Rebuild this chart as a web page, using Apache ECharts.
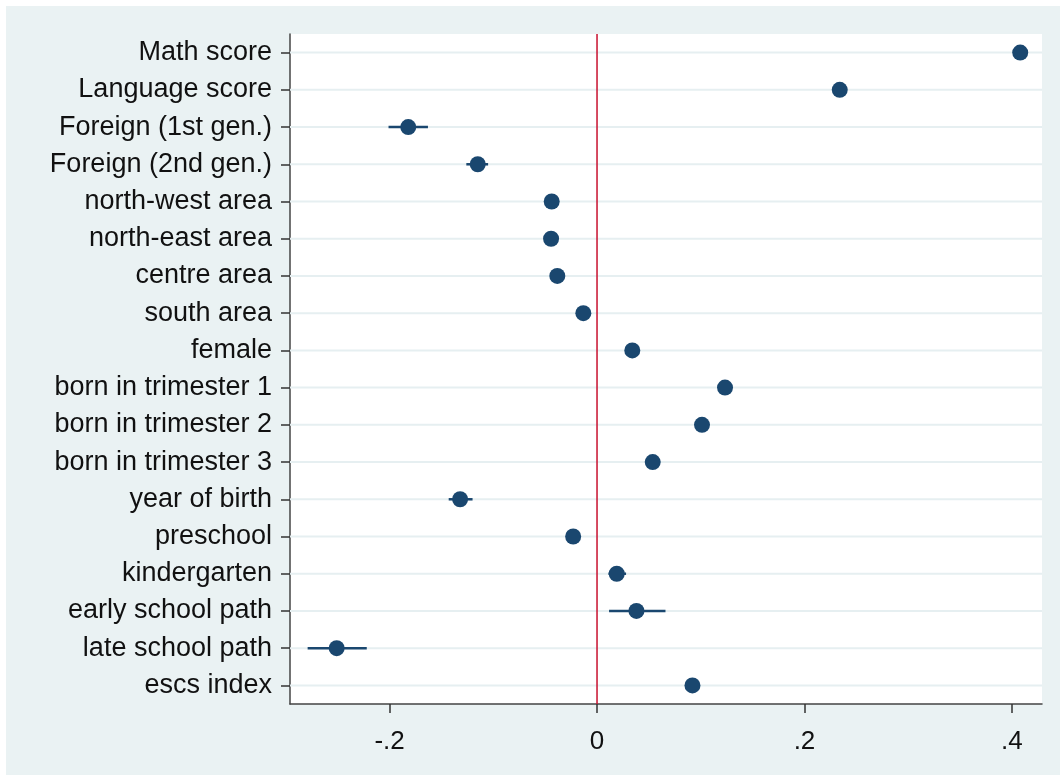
<!DOCTYPE html>
<html>
<head>
<meta charset="utf-8">
<script src="https://cdn.jsdelivr.net/npm/echarts@6/dist/echarts.min.js"></script>
<style>
html,body{margin:0;padding:0;background:#ffffff;}
#chart{position:absolute;left:6px;top:6px;width:1054px;height:769px;}
</style>
</head>
<body>
<div id="chart"></div>
<script>
// ---- data ----
const categories = [
  "Math score", "Language score", "Foreign (1st gen.)", "Foreign (2nd gen.)",
  "north-west area", "north-east area", "centre area", "south area", "female",
  "born in trimester 1", "born in trimester 2", "born in trimester 3",
  "year of birth", "preschool", "kindergarten", "early school path",
  "late school path", "escs index"
];
const estimates = [0.408, 0.234, -0.182, -0.115, -0.0437, -0.0443, -0.0383, -0.0132, 0.034,
  0.1234, 0.1012, 0.0537, -0.132, -0.023, 0.019, 0.038, -0.251, 0.092];
const ciLow = [0.404, 0.230, -0.201, -0.126, -0.048, -0.049, -0.043, -0.018, 0.030,
  0.119, 0.097, 0.049, -0.143, -0.028, 0.011, 0.0116, -0.279, 0.088];
const ciHigh = [0.412, 0.238, -0.163, -0.105, -0.039, -0.040, -0.034, -0.009, 0.038,
  0.128, 0.106, 0.058, -0.120, -0.018, 0.028, 0.066, -0.222, 0.096];
const xTicks = [-0.2, 0, 0.2, 0.4];
const refLine = [0];

const navy = '#1a476f';
const fontFamily = '"Liberation Sans", Arial, sans-serif';

const chart = echarts.init(document.getElementById('chart'));
const option = {
  backgroundColor: '#EAF2F3',
  animation: false,
  grid: {
    left: 284, right: 18, top: 28, bottom: 71,
    show: true, backgroundColor: '#ffffff', borderWidth: 0
  },
  xAxis: {
    type: 'value',
    min: -0.296, max: 0.429,
    axisLine: { show: true, onZero: false, lineStyle: { color: '#444', width: 1.5 } },
    axisTick: { show: true, length: 9, customValues: xTicks, lineStyle: { color: '#333', width: 1.5 } },
    axisLabel: {
      customValues: xTicks, margin: 25, color: '#111', fontSize: 26, fontFamily: fontFamily,
      formatter: function (v) {
        if (Math.abs(v) < 1e-9) return '0';
        return String(Math.round(v * 10) / 10).replace('0.', '.');
      }
    },
    splitLine: { show: false }
  },
  yAxis: {
    type: 'category',
    data: categories,
    inverse: true,
    boundaryGap: true,
    axisLine: { show: true, onZero: false, lineStyle: { color: '#444', width: 1.5 } },
    axisTick: { show: true, alignWithLabel: true, length: 9, lineStyle: { color: '#333', width: 1.5 } },
    axisLabel: { margin: 18, color: '#111', fontSize: 27, fontFamily: fontFamily },
    splitLine: { show: false }
  },
  series: [
    {
      // horizontal grid lines at each category
      type: 'custom',
      z: 1,
      silent: true,
      data: categories.map((c, i) => [i]),
      encode: { y: 0 },
      renderItem: function (params, api) {
        const cs = params.coordSys;
        const p = api.coord([0, api.value(0)]);
        return {
          type: 'line',
          shape: { x1: cs.x, y1: p[1], x2: cs.x + cs.width, y2: p[1] },
          style: { stroke: '#E6EFF1', lineWidth: 2 }
        };
      }
    },
    {
      // reference line at x = 0
      type: 'custom',
      z: 2,
      silent: true,
      data: refLine.map(v => [v]),
      encode: { x: 0 },
      renderItem: function (params, api) {
        const cs = params.coordSys;
        const p = api.coord([api.value(0), 0]);
        return {
          type: 'line',
          shape: { x1: p[0], y1: cs.y, x2: p[0], y2: cs.y + cs.height },
          style: { stroke: '#C8102E', lineWidth: 1.5 }
        };
      }
    },
    {
      // confidence intervals
      type: 'custom',
      z: 3,
      data: categories.map((c, i) => [ciLow[i], ciHigh[i], i]),
      encode: { x: [0, 1], y: 2 },
      renderItem: function (params, api) {
        const p1 = api.coord([api.value(0), api.value(2)]);
        const p2 = api.coord([api.value(1), api.value(2)]);
        return {
          type: 'line',
          shape: { x1: p1[0], y1: p1[1], x2: p2[0], y2: p2[1] },
          style: { stroke: navy, lineWidth: 2.5 }
        };
      }
    },
    {
      type: 'scatter',
      z: 4,
      symbol: 'circle',
      symbolSize: 16,
      itemStyle: { color: navy, opacity: 1 },
      data: categories.map((c, i) => [estimates[i], i])
    }
  ]
};
chart.setOption(option);
</script>
</body>
</html>
